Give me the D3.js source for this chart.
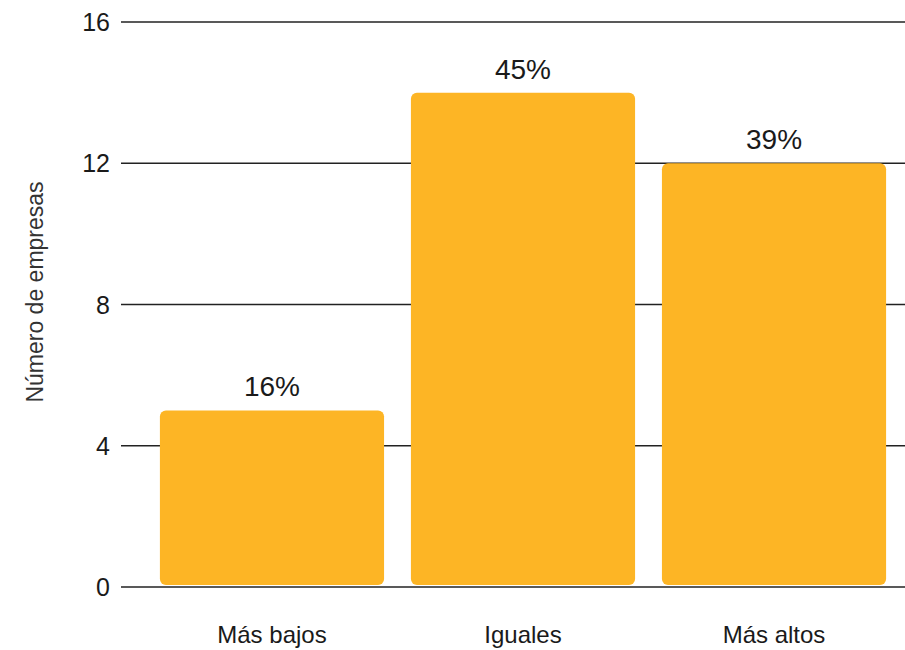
<!DOCTYPE html>
<html><head><meta charset="utf-8">
<script src="https://cdn.jsdelivr.net/npm/d3@7"></script>
<style>body{margin:0;background:#fff;} text{font-family:"Liberation Sans",Arial,sans-serif;}</style>
</head><body><svg id="c" width="905" height="650"></svg>
<script>
const categories = ["Más bajos", "Iguales", "Más altos"];
const values = [5, 14, 12];
const pctLabels = ["16%", "45%", "39%"];
const yTicks = [0, 4, 8, 12, 16];

const svg = d3.select("#c");
const y = d3.scaleLinear().domain([0, 16]).range([587, 22]);
const x = d3.scaleBand().domain(categories).range([121, 925]).paddingInner(0.107).paddingOuter(0.155);

// gridlines
svg.append("g").selectAll("line").data(yTicks).join("line")
  .attr("x1", 121).attr("x2", 905)
  .attr("y1", d => y(d)).attr("y2", d => y(d))
  .attr("stroke", "#222").attr("stroke-width", 1.5);

// tick labels
svg.append("g").selectAll("text").data(yTicks).join("text")
  .attr("x", 110).attr("y", d => y(d)).attr("dy", "0.36em")
  .attr("text-anchor", "end").attr("font-size", 25).attr("fill", "#1a1a1a")
  .text(d => d);

// bars
const data = categories.map((c, i) => ({c, v: values[i], p: pctLabels[i]}));
svg.append("g").selectAll("rect").data(data).join("rect")
  .attr("x", d => x(d.c)).attr("width", x.bandwidth())
  .attr("y", d => y(d.v)).attr("height", d => y(0) - 2 - y(d.v))
  .attr("rx", 6).attr("ry", 6)
  .attr("fill", "#FDB525");

// value labels
svg.append("g").selectAll("text").data(data).join("text")
  .attr("x", d => x(d.c) + x.bandwidth() / 2).attr("y", d => y(d.v) - 14)
  .attr("text-anchor", "middle").attr("font-size", 28).attr("fill", "#1a1a1a")
  .text(d => d.p);

// x labels
svg.append("g").selectAll("text").data(categories).join("text")
  .attr("x", d => x(d) + x.bandwidth() / 2).attr("y", 643)
  .attr("text-anchor", "middle").attr("font-size", 24).attr("fill", "#1a1a1a")
  .text(d => d);

// y title
svg.append("text").attr("transform", "translate(43,292) rotate(-90)")
  .attr("text-anchor", "middle").attr("font-size", 23).attr("fill", "#333")
  .text("Número de empresas");
</script></body></html>
